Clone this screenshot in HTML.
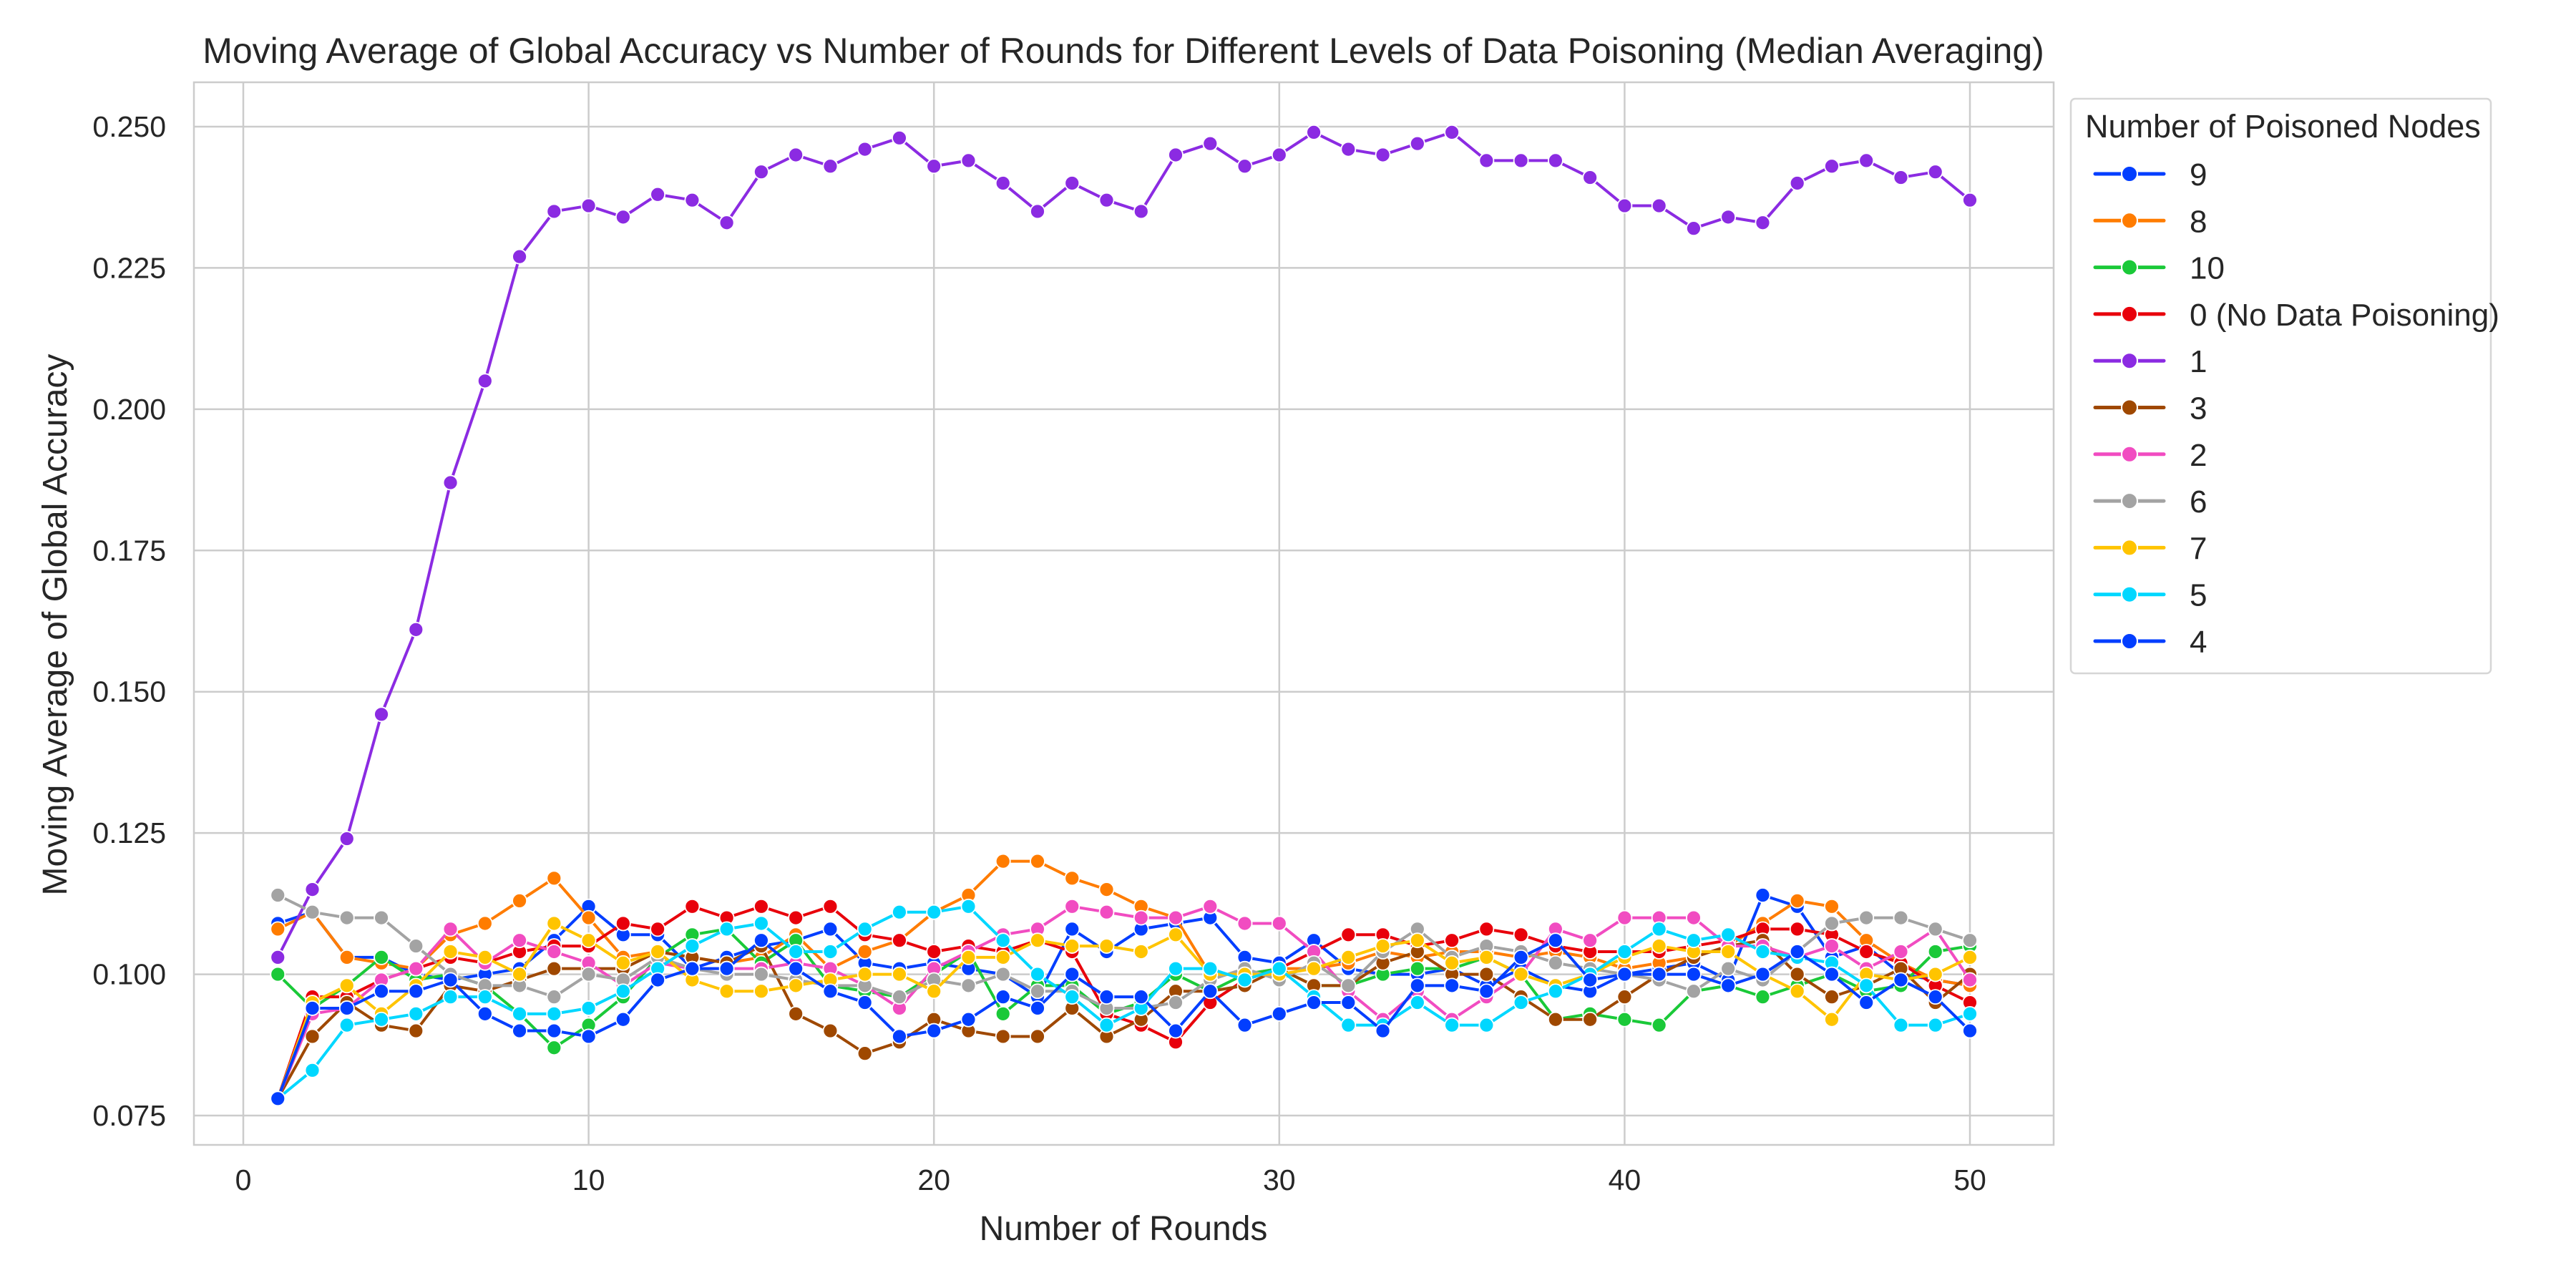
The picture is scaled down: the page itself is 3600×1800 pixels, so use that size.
<!DOCTYPE html>
<html><head><meta charset="utf-8"><style>
html,body{margin:0;padding:0;background:#fff;}
svg{display:block;font-family:"Liberation Sans","DejaVu Sans",sans-serif;}
</style></head><body>
<svg id="chart" width="3600" height="1800" viewBox="0 0 3600 1800" xmlns="http://www.w3.org/2000/svg">
<rect width="3600" height="1800" fill="#fff"/>
<g id="grid"></g>
<g id="series"></g>
<rect x="271" y="115" width="2599" height="1485" fill="none" stroke="#cccccc" stroke-width="2.5"/>
<g id="ticks" font-size="41" fill="#262626"></g>
<text x="1570" y="88" font-size="50" text-anchor="middle" fill="#262626">Moving Average of Global Accuracy vs Number of Rounds for Different Levels of Data Poisoning (Median Averaging)</text>
<text x="1570" y="1733" font-size="48" text-anchor="middle" fill="#262626">Number of Rounds</text>
<text transform="translate(93,873) rotate(-90)" font-size="48" text-anchor="middle" fill="#262626">Moving Average of Global Accuracy</text>
<g id="legend">
<rect x="2894" y="138" width="587" height="803" rx="6" fill="#fff" stroke="#d6d6d6" stroke-width="2.5"/>
<text x="2914" y="192" font-size="45" fill="#262626">Number of Poisoned Nodes</text>
</g>
</svg>
<script>
const rounds = Array.from({length:50},(_,i)=>i+1);
const labels = ["9","8","10","0 (No Data Poisoning)","1","3","2","6","7","5","4"];
const colors = ["#023eff","#ff7c00","#1ac938","#e8000b","#8b2be2","#9f4800","#f14cc1","#a3a3a3","#ffc400","#00d7ff","#023eff"];
const s9 = [0.109,0.111,0.103,0.103,0.100,0.099,0.100,0.101,0.106,0.112,0.107,0.107,0.101,0.103,0.105,0.106,0.108,0.102,0.101,0.102,0.101,0.100,0.096,0.108,0.104,0.108,0.109,0.110,0.103,0.102,0.106,0.101,0.100,0.100,0.101,0.098,0.101,0.098,0.097,0.100,0.101,0.102,0.099,0.114,0.112,0.103,0.105,0.100,0.099,0.098];
const s8 = [0.108,0.111,0.103,0.102,0.101,0.107,0.109,0.113,0.117,0.110,0.103,0.104,0.103,0.102,0.103,0.107,0.101,0.104,0.106,0.111,0.114,0.120,0.120,0.117,0.115,0.112,0.110,0.100,0.100,0.101,0.101,0.102,0.104,0.103,0.104,0.104,0.103,0.104,0.103,0.101,0.102,0.103,0.105,0.109,0.113,0.112,0.106,0.102,0.099,0.098];
const s10 = [0.100,0.094,0.098,0.103,0.099,0.100,0.098,0.093,0.087,0.091,0.096,0.103,0.107,0.108,0.102,0.106,0.098,0.097,0.096,0.100,0.104,0.093,0.098,0.098,0.093,0.095,0.100,0.097,0.100,0.101,0.098,0.098,0.100,0.101,0.101,0.103,0.100,0.092,0.093,0.092,0.091,0.097,0.098,0.096,0.098,0.100,0.097,0.098,0.104,0.105];
const s0 = [0.078,0.096,0.096,0.099,0.101,0.103,0.102,0.104,0.105,0.105,0.109,0.108,0.112,0.110,0.112,0.110,0.112,0.107,0.106,0.104,0.105,0.104,0.106,0.104,0.093,0.091,0.088,0.095,0.099,0.101,0.104,0.107,0.107,0.105,0.106,0.108,0.107,0.105,0.104,0.104,0.104,0.105,0.106,0.108,0.108,0.107,0.104,0.102,0.098,0.095];
const s1 = [0.103,0.115,0.124,0.146,0.161,0.187,0.205,0.227,0.235,0.236,0.234,0.238,0.237,0.233,0.242,0.245,0.243,0.246,0.248,0.243,0.244,0.240,0.235,0.240,0.237,0.235,0.245,0.247,0.243,0.245,0.249,0.246,0.245,0.247,0.249,0.244,0.244,0.244,0.241,0.236,0.236,0.232,0.234,0.233,0.240,0.243,0.244,0.241,0.242,0.237];
const s3 = [0.078,0.089,0.095,0.091,0.090,0.098,0.097,0.099,0.101,0.101,0.101,0.104,0.103,0.102,0.105,0.093,0.090,0.086,0.088,0.092,0.090,0.089,0.089,0.094,0.089,0.092,0.097,0.097,0.098,0.101,0.098,0.098,0.102,0.104,0.100,0.100,0.096,0.092,0.092,0.096,0.100,0.103,0.105,0.106,0.100,0.096,0.098,0.101,0.095,0.100];
const s2 = [0.078,0.093,0.094,0.099,0.101,0.108,0.102,0.106,0.104,0.102,0.098,0.102,0.101,0.101,0.101,0.102,0.101,0.098,0.094,0.101,0.104,0.107,0.108,0.112,0.111,0.110,0.110,0.112,0.109,0.109,0.104,0.097,0.092,0.097,0.092,0.096,0.100,0.108,0.106,0.110,0.110,0.110,0.105,0.105,0.103,0.105,0.101,0.104,0.108,0.099];
const s6 = [0.114,0.111,0.110,0.110,0.105,0.100,0.098,0.098,0.096,0.100,0.099,0.103,0.101,0.100,0.100,0.099,0.098,0.098,0.096,0.099,0.098,0.100,0.097,0.097,0.094,0.094,0.095,0.099,0.101,0.099,0.102,0.098,0.104,0.108,0.103,0.105,0.104,0.102,0.101,0.100,0.099,0.097,0.101,0.099,0.104,0.109,0.110,0.110,0.108,0.106];
const s7 = [0.078,0.095,0.098,0.093,0.098,0.104,0.103,0.100,0.109,0.106,0.102,0.104,0.099,0.097,0.097,0.098,0.099,0.100,0.100,0.097,0.103,0.103,0.106,0.105,0.105,0.104,0.107,0.100,0.100,0.100,0.101,0.103,0.105,0.106,0.102,0.103,0.100,0.098,0.100,0.103,0.105,0.104,0.104,0.100,0.097,0.092,0.100,0.099,0.100,0.103];
const s5 = [0.078,0.083,0.091,0.092,0.093,0.096,0.096,0.093,0.093,0.094,0.097,0.101,0.105,0.108,0.109,0.104,0.104,0.108,0.111,0.111,0.112,0.106,0.100,0.096,0.091,0.094,0.101,0.101,0.099,0.101,0.096,0.091,0.091,0.095,0.091,0.091,0.095,0.097,0.100,0.104,0.108,0.106,0.107,0.104,0.103,0.102,0.098,0.091,0.091,0.093];
const s4 = [0.078,0.094,0.094,0.097,0.097,0.099,0.093,0.090,0.090,0.089,0.092,0.099,0.101,0.101,0.106,0.101,0.097,0.095,0.089,0.090,0.092,0.096,0.094,0.100,0.096,0.096,0.090,0.097,0.091,0.093,0.095,0.095,0.090,0.098,0.098,0.097,0.103,0.106,0.099,0.100,0.100,0.100,0.098,0.100,0.104,0.100,0.095,0.099,0.096,0.090];
const xTicks = [0,10,20,30,40,50];
const yTicks = [0.075,0.100,0.125,0.150,0.175,0.200,0.225,0.250];
const yTickLabels = ["0.075","0.100","0.125","0.150","0.175","0.200","0.225","0.250"];

const NS="http://www.w3.org/2000/svg";
const X0=271,X1=2870,Y0=115,Y1=1600;
function xs(v){return 340+(v-0)*(2753-340)/50;}
function ys(v){return 1559-(v-0.075)*(1559-177)/0.175;}
function mk(tag,attrs,parent){const e=document.createElementNS(NS,tag);for(const k in attrs)e.setAttribute(k,attrs[k]);parent.appendChild(e);return e;}
const grid=document.getElementById('grid'),ticks=document.getElementById('ticks'),ser=document.getElementById('series'),leg=document.getElementById('legend');
xTicks.forEach(t=>{
  const l=mk('line',{x1:xs(t),x2:xs(t),y1:Y0,y2:Y1,stroke:'#cccccc','stroke-width':2.5},grid);
  
  
  const tx=mk('text',{x:xs(t),y:1663,'text-anchor':'middle'},ticks);
  tx.textContent=String(t);
  
  
});
yTicks.forEach((t,i)=>{
  const l=mk('line',{x1:X0,x2:X1,y1:ys(t),y2:ys(t),stroke:'#cccccc','stroke-width':2.5},grid);
  
  
  const tx=mk('text',{x:232,y:ys(t)+14,'text-anchor':'end'},ticks);
  tx.textContent=yTickLabels[i];
  
  
});
const data=[s9,s8,s10,s0,s1,s3,s2,s6,s7,s5,s4];
data.forEach((arr,si)=>{
  const g=mk('g',{},ser);
  
  
  const pts=arr.map((v,i)=>xs(rounds[i])+','+ys(v)).join(' ');
  const pl=mk('polyline',{points:pts,fill:'none',stroke:colors[si],'stroke-width':4,'stroke-linejoin':'round'},g);
  
  
  arr.forEach((v,i)=>{
    const c=mk('circle',{cx:xs(rounds[i]),cy:ys(v),r:10,fill:colors[si],stroke:'#fff','stroke-width':1.8},g);
    
    
  });
  const y=243+si*65.3;
  const e=mk('g',{},leg);
  
  
  mk('line',{x1:2928,x2:3024,y1:y,y2:y,stroke:colors[si],'stroke-width':5,'stroke-linecap':'round'},e);
  mk('circle',{cx:2976,cy:y,r:11,fill:colors[si],stroke:'#fff','stroke-width':2},e);
  const t=mk('text',{x:3060,y:y+16,'font-size':44,fill:'#262626'},e);
  t.textContent=labels[si];
});
</script>
</body></html>
